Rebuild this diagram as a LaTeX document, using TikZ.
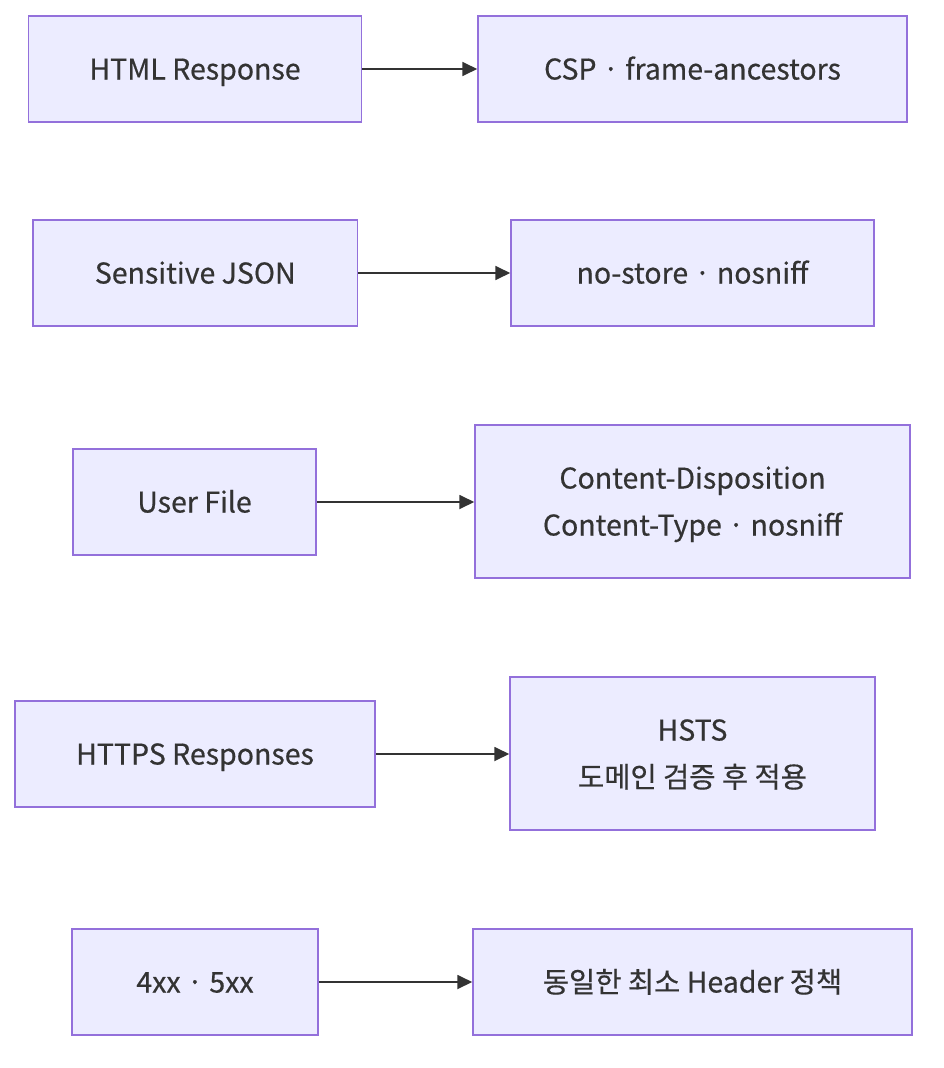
\documentclass[tikz,border=0pt]{standalone}
\usepackage{fontspec}
\newfontfamily\kr[RawFeature={embolden=0.5}]{Noto Sans CJK KR}
\usetikzlibrary{arrows.meta}
\definecolor{boxfill}{HTML}{ECECFF}
\definecolor{boxline}{HTML}{9370DB}
\definecolor{textc}{HTML}{333333}
\tikzset{
  box/.style={draw=boxline, fill=boxfill, line width=1.5pt, inner sep=0pt,
    minimum height=106pt, text=textc, align=center,
    text height=21pt, text depth=0pt,
    font=\kr\fontsize{28.5}{47}\selectfont},
  tall/.style={minimum height=153pt, text height=68pt},
  link/.style={draw=textc, line width=1.8pt, -{Triangle[length=15pt,width=14pt]}}
}
\begin{document}
\begin{tikzpicture}[x=1pt,y=-1pt]
\useasboundingbox (0,0) rectangle (944,1068);
\node[box, minimum width=333pt] (a1) at (195,69) {HTML Response};
\node[box, minimum width=429pt] (b1) at (692.5,69) {CSP · frame-ancestors};
\node[box, minimum width=324.5pt] (a2) at (195.25,273) {Sensitive JSON};
\node[box, minimum width=363pt] (b2) at (692.5,273) {no-store · nosniff};
\node[box, minimum width=243pt] (a3) at (194.5,502) {User File};
\node[box, tall, minimum width=435pt] (b3) at (692.5,501.5) {Content-Disposition\\Content-Type · nosniff};
\node[box, minimum width=360pt] (a4) at (195,754) {HTTPS Responses};
\node[box, tall, minimum width=365pt] (b4) at (692.5,753.5) {HSTS\\도메인 검증 후 적용};
\node[box, minimum width=246pt] (a5) at (195,982) {4xx · 5xx};
\node[box, minimum width=439pt] (b5) at (692.5,982) {동일한 최소 Header 정책};
\draw[link] (a1.east) -- (a1.east -| b1.west);
\draw[link] (a2.east) -- (a2.east -| b2.west);
\draw[link] (a3.east) -- (a3.east -| b3.west);
\draw[link] (a4.east) -- (a4.east -| b4.west);
\draw[link] (a5.east) -- (a5.east -| b5.west);
\end{tikzpicture}
\end{document}
